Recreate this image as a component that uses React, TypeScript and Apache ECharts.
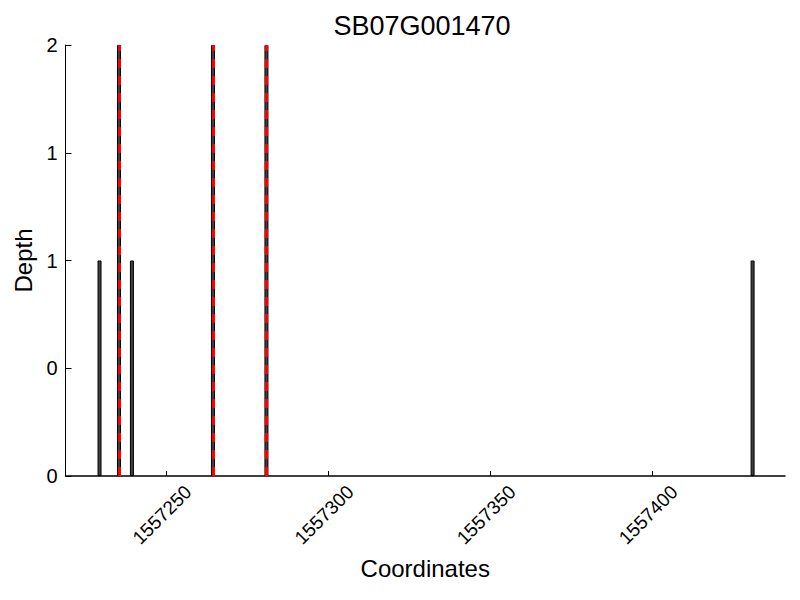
import React, { useEffect, useRef } from "react";
import * as echarts from "echarts";

const title = "SB07G001470";
const positions = [1557229.5, 1557235.5, 1557239.5, 1557264.5, 1557281, 1557431];
const depths = [1, 2, 1, 2, 2, 1];
const markedPositions = [1557235.5, 1557264.5, 1557281];
const xTicks = [1557250, 1557300, 1557350, 1557400];
const yTicks = [0, 0.5, 1, 1.5, 2];

export default function App() {
  const ref = useRef<HTMLDivElement>(null);
  useEffect(() => {
    if (!ref.current) return;
    const chart = echarts.init(ref.current, null, { renderer: "svg" });
    const font = "Liberation Sans";
    chart.setOption({
      animation: false,
      backgroundColor: "#fff",
      graphic: [
        {
          type: "text",
          x: 422,
          y: 26,
          style: {
            text: title,
            align: "center",
            verticalAlign: "middle",
            fontFamily: font,
            fontSize: 27,
            fill: "#000",
          },
        },
      ],
      grid: { left: 65.5, right: 15, top: 45, bottom: 124, containLabel: false, outerBoundsMode: "none" },
      xAxis: {
        type: "value",
        min: 1557219,
        max: 1557441,
        name: "Coordinates",
        nameLocation: "middle",
        nameGap: 80,
        nameTextStyle: { fontFamily: font, fontSize: 24, color: "#000" },
        axisLine: { show: true, lineStyle: { color: "#000", width: 1.5 } },
        axisTick: { show: true, inside: true, length: 5, customValues: xTicks, lineStyle: { color: "#000" } },
        axisLabel: {
          customValues: xTicks,
          rotate: 45,
          align: "center",
          verticalAlign: "middle",
          margin: 35,
          padding: [0, 11, 0, 0],
          fontFamily: font,
          fontSize: 19,
          color: "#000",
          formatter: (v: number) => String(Math.round(v)),
        },
        splitLine: { show: false },
      },
      yAxis: {
        type: "value",
        min: 0,
        max: 2,
        interval: 0.5,
        name: "Depth",
        nameLocation: "middle",
        nameGap: 28,
        nameTextStyle: { fontFamily: font, fontSize: 24, color: "#000" },
        axisLine: { show: true, lineStyle: { color: "#000", width: 1 } },
        axisTick: { show: true, inside: true, length: 6, lineStyle: { color: "#000" } },
        axisLabel: {
          fontFamily: font,
          fontSize: 20,
          color: "#000",
          margin: 8,
          customValues: yTicks,
          formatter: (v: number) => String(Math.floor(v)),
        },
        splitLine: { show: false },
      },
      series: [
        {
          type: "bar",
          data: positions.map((p, i) => [p, depths[i]]),
          barWidth: 4,
          itemStyle: { color: "#404040", borderColor: "#000", borderWidth: 1 },
          markLine: {
            silent: true,
            symbol: "none",
            label: { show: false },
            lineStyle: { color: "#ff0000", type: [9, 8], width: 3 },
            data: markedPositions.map((p) => ({ xAxis: p })),
          },
        },
      ],
    });
    return () => chart.dispose();
  }, []);
  return <div ref={ref} style={{ width: 800, height: 600, margin: -8 }} />;
}
